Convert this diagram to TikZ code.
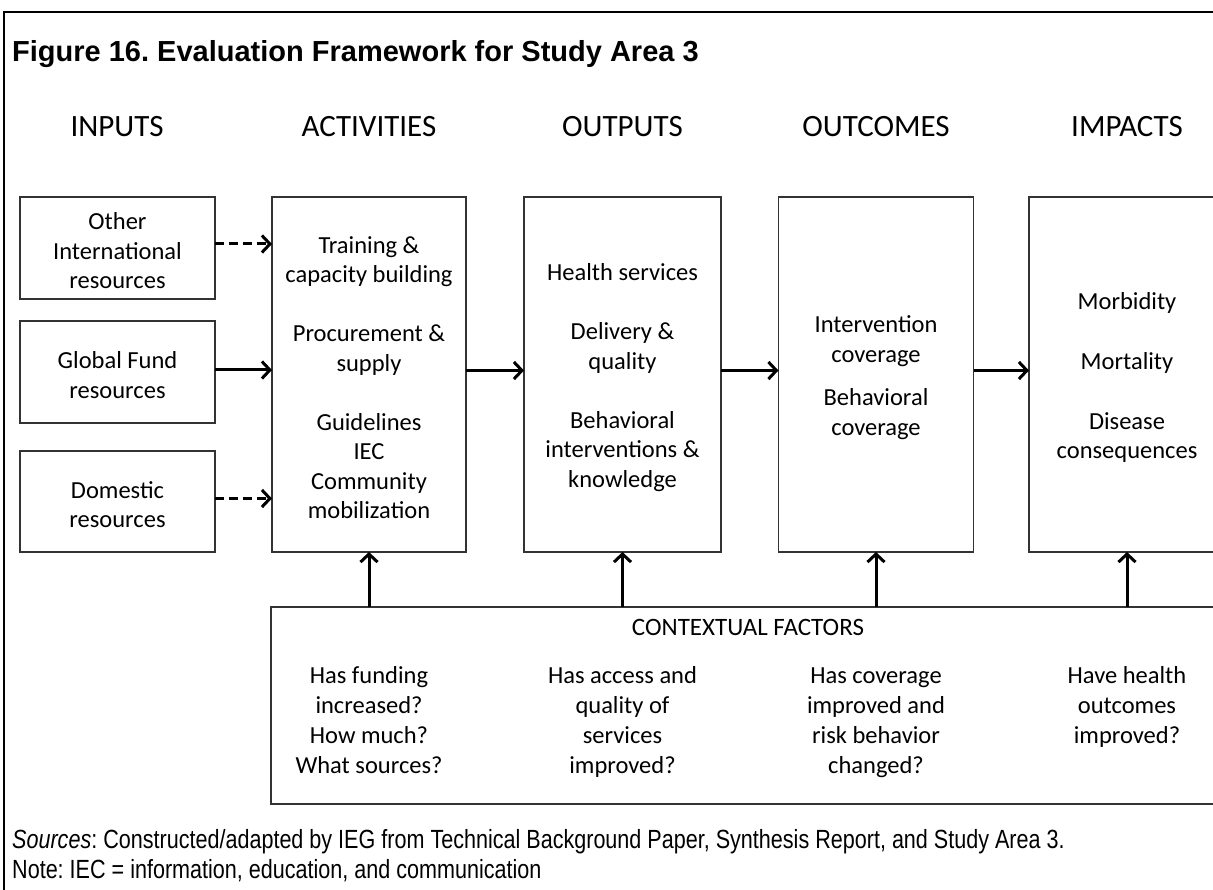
\documentclass[tikz,border=0pt]{standalone}
\usepackage{fontspec}
\setmainfont{Carlito}
\newfontfamily\titlefont{Liberation Sans}
\newfontfamily\notefont{Liberation Sans}[FakeStretch=0.82]
\usetikzlibrary{arrows.meta}
\frenchspacing

\begin{document}
\begin{tikzpicture}[x=1pt, y=-1pt,
  box/.style={draw=black!80, line width=1.3pt, inner sep=0pt, outer sep=0pt},
  lbl/.style={font=\fontsize{24.5}{29.5}\selectfont, align=center, inner sep=0pt, yshift=-3pt},
  head/.style={font=\fontsize{31}{36}\selectfont, anchor=base, inner sep=0pt},
  ctx/.style={font=\fontsize{24.5}{30}\selectfont, align=center, anchor=base, inner sep=0pt},
  note/.style={font=\notefont\fontsize{26.3}{30}\selectfont, anchor=base west, inner sep=0pt},
  arr/.style={line width=3pt, -{Straight Barb[length=8pt, width=17pt]}},
  darr/.style={arr, dash pattern=on 9pt off 5pt}]
\useasboundingbox (0,0) rectangle (1213,890);
\fill[white] (0,0) rectangle (1213,890);

% outer frame (open to the right and bottom)
\draw[line width=2pt] (4,890) -- (4,12) -- (1213,12);

% title and column headings
\node[font=\titlefont\bfseries\fontsize{29}{34}\selectfont, anchor=base west, inner sep=0pt]
  (title) at (12,62) {Figure 16. Evaluation Framework for Study Area 3};
\node[head] (hin)  at (117,137)   {INPUTS};
\node[head] (hact) at (369,137)   {ACTIVITIES};
\node[head] (hout) at (622.5,137) {OUTPUTS};
\node[head] (hoc)  at (876,137)   {OUTCOMES};
\node[head] (himp) at (1127,137)  {IMPACTS};

% input boxes
\node[box, minimum width=195, minimum height=102] (other) at (117.5,248) {};
\node[box, minimum width=195, minimum height=102] (gf)    at (117.5,372) {};
\node[box, minimum width=195, minimum height=101] (dom)   at (117.5,501.5) {};
\node[lbl] (otherT) at (other) {Other\\International\\resources};
\node[lbl] (gfT)    at (gf)    {Global Fund\\resources};
\node[lbl] (domT)   at (dom)   {Domestic\\resources};

% chain boxes
\node[box, minimum width=194, minimum height=355] (act) at (369,374.5) {};
\node[box, minimum width=197, minimum height=355] (out) at (622.5,374.5) {};
\node[box, minimum width=195, minimum height=355] (oc)  at (876,374.5) {};
\node[box, minimum width=196, minimum height=355] (imp) at (1127,374.5) {};

\node[lbl] (actT) at (act) {Training \&\\capacity building\\[29.5pt]Procurement \&\\supply\\[29.5pt]Guidelines\\IEC\\Community\\mobilization};
\node[lbl] (outT) at (out) {Health services\\[29.5pt]Delivery \&\\quality\\[29.5pt]Behavioral\\interventions \&\\knowledge};
\node[lbl] (ocT)  at (oc)  {Intervention\\coverage\\[14pt]Behavioral\\coverage};
\node[lbl] (impT) at (imp) {Morbidity\\[30.5pt]Mortality\\[30.5pt]Disease\\consequences};

% contextual factors
\node[box, minimum width=969, minimum height=197] (ctxbox) at (755.5,705.5) {};
\node[ctx, font=\fontsize{25}{30}\selectfont] (ctxT) at (748,635) {CONTEXTUAL FACTORS};
\node[ctx] (q1) at (369,773)   {Has funding\\increased?\\How much?\\What sources?};
\node[ctx] (q2) at (622.5,773) {Has access and\\quality of\\services\\improved?};
\node[ctx] (q3) at (876,773)   {Has coverage\\improved and\\risk behavior\\changed?};
\node[ctx] (q4) at (1127,743)  {Have health\\outcomes\\improved?};

% arrow rows sit slightly above the box centres
\coordinate (rowA) at ([yshift=4pt]other.east);
\coordinate (rowB) at ([yshift=2pt]gf.east);
\coordinate (rowC) at ([yshift=3pt]dom.east);
\coordinate (rowD) at ([yshift=4pt]act.east);

% connectors
\draw[darr] (rowA) -- (act.west |- rowA);
\draw[arr]  (rowB) -- (act.west |- rowB);
\draw[darr] (rowC) -- (act.west |- rowC);
\draw[arr] (rowD) -- (out.west |- rowD);
\draw[arr] (out.east |- rowD) -- (oc.west |- rowD);
\draw[arr] (oc.east |- rowD)  -- (imp.west |- rowD);
\draw[arr] (ctxbox.north -| act.south) -- (act.south);
\draw[arr] (ctxbox.north -| out.south) -- (out.south);
\draw[arr] (ctxbox.north -| oc.south)  -- (oc.south);
\draw[arr] (ctxbox.north -| imp.south) -- (imp.south);

% source and note
\node[note] (src) at (12,848) {\textit{Sources}: Constructed/adapted by IEG from Technical Background Paper, Synthesis Report, and Study Area 3.};
\node[note] (nte) at (12,878) {Note: IEC = information, education, and communication};
\end{tikzpicture}
\end{document}
